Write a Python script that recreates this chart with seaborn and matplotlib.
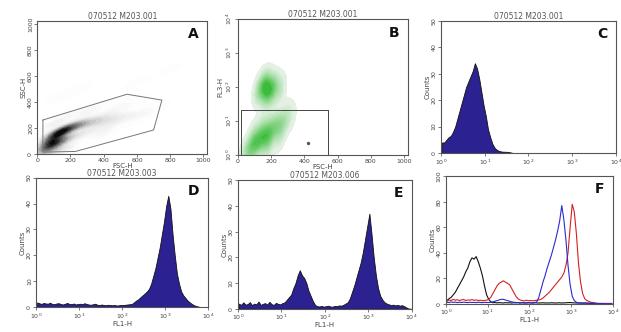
import numpy as np
import pandas as pd
import matplotlib
matplotlib.use("Agg")
import matplotlib.pyplot as plt
import seaborn as sns

# ---- panel A: FSC-H vs SSC-H density (anchor points)
a_fsc = [60, 80, 100, 120, 150, 190, 240, 290, 350, 410, 480, 560, 640, 130, 200, 300, 420, 100, 200,
         350, 500, 700, 250, 600, 300, 450, 560, 80, 160, 380, 150, 800]
a_ssc = [40, 80, 120, 160, 180, 200, 220, 235, 250, 260, 275, 290, 305, 90, 130, 170, 210, 230, 300,
         350, 380, 350, 500, 550, 320, 330, 380, 20, 40, 150, 450, 650]
a_w = [6, 9, 9, 7, 6, 5, 4, 3.5, 3, 2.5, 2, 1.5, 1, 5, 3, 2, 1.5, 2, 1,
       0.6, 0.4, 0.3, 0.2, 0.15, 1.2, 1.0, 0.6, 4, 2.5, 1.2, 0.3, 0.1]
gate_a_x = [34, 34, 230, 700, 750, 540, 34]
gate_a_y = [262, 15, 20, 185, 415, 460, 262]

# ---- panel B: FSC-H vs FL3-H
b_fsc = [130, 170, 210, 250, 180, 160, 50, 80, 110, 140, 170, 200, 230, 260, 290, 320, 100, 180, 250, 150, 200, 300]
b_fl3 = [80, 100, 95, 85, 60, 130, 1.2, 1.6, 2.2, 3.0, 4.0, 5.5, 7.0, 9.0, 11, 14, 4.0, 2.0, 3.5, 8.0, 20, 30]
b_w = [4, 6, 6, 3, 4, 3, 3, 4, 5, 5, 5, 4, 3.5, 3, 2, 1, 2, 3, 2, 1.5, 0.6, 0.3]
gate_b_x = [20, 20, 540, 540, 20]
gate_b_y = [1, 21, 21, 1, 1]
b_dot_x = [425]
b_dot_y = [2.2]

# ---- histograms, 80 bins of 0.05 decade from 10^0 to 10^4
c_counts = [4, 4, 5, 6, 6.5, 8, 10, 13, 16, 19, 22, 25, 27, 29, 31, 34, 32, 28, 23, 18,
            14, 9, 6, 3.5, 2, 1.2, 0.8, 0.6, 0.5, 0.5, 0.4, 0.3, 0.1, 0, 0, 0, 0, 0, 0, 0,
            0, 0, 0, 0, 0, 0, 0, 0, 0, 0, 0, 0, 0, 0, 0, 0, 0, 0, 0, 0,
            0, 0, 0, 0, 0, 0, 0, 0, 0, 0, 0, 0, 0, 0, 0, 0, 0, 0, 0, 0]
d_counts = [1.8, 1.5, 1.2, 1.6, 1.4, 1.3, 1.7, 1.2, 1.1, 1.4, 1.5, 1.2, 1.0, 1.3, 1.6, 1.2, 1.1, 1.4, 1.0, 1.2,
            1.3, 1.1, 1.5, 1.2, 1.0, 0.9, 1.1, 1.3, 0.9, 0.8, 1.0, 0.8, 0.7, 0.9, 0.8, 0.7, 0.8, 0.6, 0.7, 0.8,
            0.8, 0.9, 1.0, 1.1, 1.2, 1.8, 2.5, 3, 3.8, 4.5, 5.2, 6, 7, 9, 12, 15, 19, 23, 28, 33,
            39, 43, 38, 28, 20, 13, 9, 6, 4.5, 3.5, 2.5, 1.8, 1.2, 0.7, 0.4, 0.2, 0, 0, 0, 0]
e_counts = [2.0, 1.5, 2.5, 1.6, 1.8, 2.6, 1.4, 2.0, 1.7, 2.8, 1.5, 1.9, 2.2, 1.6, 2.7, 1.8, 1.5, 2.3, 1.9, 1.7,
            2.2, 2.5, 3.5, 4.5, 5.5, 8, 10, 13, 15, 13, 12, 10, 7, 5, 3, 1.5, 1.0, 0.9, 1.1, 0.8,
            1.0, 1.2, 0.9, 0.8, 1.1, 1.0, 1.3, 1.2, 1.5, 2.0, 2.5, 4, 6.5, 9, 12, 15, 18, 22, 27, 32,
            37, 29, 20, 13, 8, 5, 3.5, 2.5, 2, 1.7, 1.4, 1.6, 1.3, 1.5, 1.2, 1.4, 1.0, 0.5, 0, 0]
f_black = [2.5, 4, 5, 7, 9, 12, 15, 18, 21, 25, 28, 33, 36, 35, 37, 33, 28, 22, 14, 7,
           3.5, 1.5, 0.8, 1.0, 0.7, 0.9, 0.8, 0.6, 0.9, 0.7, 0.8, 0.6, 0.8, 0.7, 0.9, 0.6, 0.8, 0.7, 0.6, 0.8,
           0.7, 0.6, 0.8, 0.7, 0.6, 0.7, 0.8, 0.6, 0.7, 0.6, 0.8, 0.7, 0.6, 0.7, 0.8, 0.6, 0.7, 0.8, 0.9, 1.0,
           0.8, 0.7, 0.6, 0.7, 0.6, 0.5, 0.6, 0.5, 0.4, 0.3, 0.3, 0.2, 0.2, 0.1, 0, 0, 0, 0, 0, 0]
f_red = [2, 3, 2.5, 3.5, 2.8, 3.2, 2.5, 3, 3.4, 2.6, 3, 2.8, 3.3, 2.7, 3, 2.5, 2.8, 2.4, 2.6, 2.8,
         3.5, 5, 8, 11, 14, 16, 17, 18, 17, 16, 15, 12, 9, 6, 4, 3, 2.5, 2.2, 2.8, 2.4,
         2.6, 2.3, 2.5, 2.8, 3, 3.5, 4.5, 6, 7.5, 9, 11, 13, 15, 17, 19, 21, 24, 30, 40, 60,
         78, 72, 55, 32, 17, 8, 4, 2.5, 1.8, 1.2, 1, 0.6, 0.3, 0.3, 0.3, 0.3, 0.3, 0.3, 0.3, 0.3]
f_blue = [1.2, 1.0, 1.4, 1.1, 1.3, 0.9, 1.2, 1.0, 1.3, 1.1, 0.9, 1.2, 1.0, 1.1, 0.9, 1.2, 1.0, 0.9, 1.1, 1.0,
          1.0, 1.2, 1.5, 2, 2.5, 3, 3.5, 3.5, 3, 2.5, 2, 1.5, 1.2, 1.0, 0.9, 0.8, 0.9, 0.7, 0.8, 0.9,
          0.8, 0.7, 0.9, 1.5, 5, 11, 17, 22, 28, 33, 38, 44, 50, 57, 65, 77, 66, 50, 30, 15,
          6, 2.5, 1.2, 0.6, 0.6, 0.5, 0.6, 0.5, 0.4, 0.5, 0.4, 0.3, 0.3, 0.2, 0.2, 0.1, 0, 0, 0, 0]

n_bins = len(c_counts)
fl1 = 10 ** (0.025 + 0.05 * np.arange(n_bins))

fill_col = "#2b2191"
ink = "#444444"

sns.set_theme(style="white")
plt.rcParams["font.family"] = ["DejaVu Sans"]

fig = plt.figure(figsize=(6.21, 3.32), dpi=100)
axA = fig.add_axes([0.060, 0.536, 0.274, 0.401])
axB = fig.add_axes([0.383, 0.533, 0.274, 0.410])
axC = fig.add_axes([0.710, 0.539, 0.282, 0.398])
axD = fig.add_axes([0.058, 0.075, 0.277, 0.390])
axE = fig.add_axes([0.383, 0.070, 0.280, 0.387])
axF = fig.add_axes([0.718, 0.085, 0.269, 0.384])


def style(ax, title, letter, xlabel, ylabel):
    if title:
        ax.set_title(title, fontsize=5.5, pad=1.5, color="#555555")
    ax.text(0.95, 0.9, letter, transform=ax.transAxes, ha="right", va="center",
            fontsize=10, fontweight="bold", color="#111111")
    ax.set_xlabel(xlabel, fontsize=5, labelpad=0, color=ink)
    ax.set_ylabel(ylabel, fontsize=5, labelpad=1, color=ink)
    ax.tick_params(labelsize=4.5, length=2, width=0.5, pad=1, colors=ink,
                   bottom=True, left=True)
    ax.tick_params(axis="y", labelrotation=90)
    plt.setp(ax.get_yticklabels(), va="center")
    for s in ax.spines.values():
        s.set_linewidth(0.8)
        s.set_color("#555555")


# A
dfa = pd.DataFrame({"FSC": a_fsc, "SSC": a_ssc, "w": a_w})
sns.kdeplot(data=dfa, x="FSC", y="SSC", weights="w", fill=True, cmap="Greys",
            levels=20, thresh=0.004, bw_adjust=0.6, ax=axA)
axA.plot(gate_a_x, gate_a_y, color="#777777", lw=0.7)
axA.set_xlim(0, 1024)
axA.set_ylim(0, 1024)
axA.set_xticks([0, 200, 400, 600, 800, 1000])
axA.set_yticks([0, 200, 400, 600, 800, 1000])
style(axA, "070512 M203.001", "A", "FSC-H", "SSC-H")

# B
dfb = pd.DataFrame({"FSC": b_fsc, "FL3": b_fl3, "w": b_w})
green = sns.light_palette("#2db82d", as_cmap=True)
sns.kdeplot(data=dfb, x="FSC", y="FL3", weights="w", fill=True, cmap=green,
            levels=16, thresh=0.02, bw_adjust=0.6, log_scale=(False, True), ax=axB)
axB.plot(gate_b_x, gate_b_y, color="#444444", lw=0.7)
axB.scatter(b_dot_x, b_dot_y, s=2, color="#555555")
axB.set_xlim(0, 1024)
axB.set_ylim(1, 10000)
axB.set_xticks([0, 200, 400, 600, 800, 1000])
style(axB, "070512 M203.001", "B", "FSC-H", "FL3-H")


def hist(ax, counts, ymax):
    sns.histplot(x=fl1, weights=counts, bins=n_bins, binrange=(0, 4), log_scale=True,
                 element="poly", fill=True, color=fill_col, alpha=1,
                 edgecolor="#111111", linewidth=0.6, ax=ax)
    ax.set_xlim(1, 10000)
    ax.set_ylim(0, ymax)
    ax.set_yticks(np.arange(0, ymax + 1, 10))


hist(axC, c_counts, 50)
style(axC, "070512 M203.001", "C", "", "Counts")
hist(axD, d_counts, 50)
style(axD, "070512 M203.003", "D", "FL1-H", "Counts")
hist(axE, e_counts, 50)
style(axE, "070512 M203.006", "E", "FL1-H", "Counts")

# F overlay
for vals, col in [(f_black, "#111111"), (f_red, "#d62020"), (f_blue, "#2a2ad0")]:
    sns.lineplot(x=fl1, y=vals, color=col, lw=0.8, ax=axF)
axF.set_xscale("log")
axF.set_xlim(1, 10000)
axF.set_ylim(0, 100)
axF.set_yticks([0, 20, 40, 60, 80, 100])
style(axF, "", "F", "FL1-H", "Counts")

fig.savefig("out.png", dpi=100)
